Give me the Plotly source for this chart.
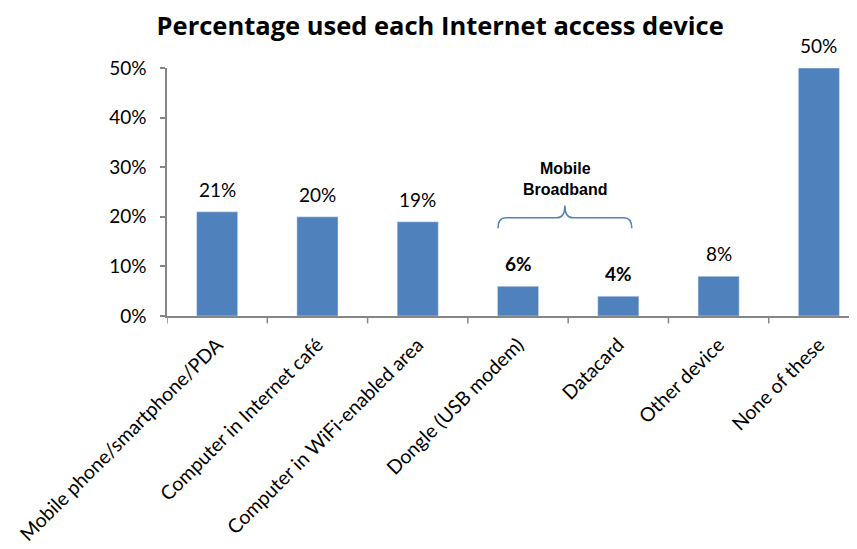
import plotly.graph_objects as go

categories = ["Mobile phone/smartphone/PDA", "Computer in Internet café",
              "Computer in WiFi-enabled area", "Dongle (USB modem)", "Datacard",
              "Other device", "None of these"]
values = [21, 20, 19, 6, 4, 8, 50]
label_bold = [False, False, False, True, True, False, False]
y_ticks = [0, 10, 20, 30, 40, 50]
y_tick_labels = ["0%", "10%", "20%", "30%", "40%", "50%"]
group_label = "Mobile<br>Broadband"
group_members = [3, 4]

BAR = "#4F81BD"
AXIS = "#868686"
FONT = "Lato"

fig = go.Figure()
fig.add_trace(go.Bar(x=list(range(len(categories))), y=values, marker_color=BAR,
                     width=0.41, hoverinfo="skip"))

for i, (v, b) in enumerate(zip(values, label_bold)):
    fig.add_annotation(x=i, y=v, text=f"<b>{v}%</b>" if b else f"{v}%", showarrow=False,
                       yanchor="bottom", yshift=9,
                       font=dict(family=FONT, size=19, color="#000000"))

# bracket over Mobile Broadband group
x0 = group_members[0] - 0.2
x1 = group_members[1] + 0.135
xm = (x0 + x1) / 2
yb, yh, yt = 17.7, 19.8, 22.3
path = (f"M {x0},{yb} Q {x0},{yh} {x0+0.08},{yh} L {xm-0.08},{yh} Q {xm},{yh} {xm},{yt} "
        f"Q {xm},{yh} {xm+0.08},{yh} L {x1-0.08},{yh} Q {x1},{yh} {x1},{yb}")
fig.add_shape(type="path", path=path, xref="x", yref="y",
              line=dict(color=BAR, width=1.5))
fig.add_annotation(x=xm, y=yt, text=f"<b>{group_label}</b>", showarrow=False,
                   yanchor="bottom", yshift=5,
                   font=dict(family="Liberation Sans", size=16, color="#000000"))

fig.update_layout(
    width=849, height=541,
    margin=dict(l=159, r=0, t=60, b=233),
    plot_bgcolor="white", paper_bgcolor="white",
    showlegend=False,
    title=dict(text="<b>Percentage used each Internet access device</b>",
               x=0.509, xanchor="center", y=0.966, yanchor="middle",
               font=dict(family="Open Sans", size=25.5, color="#000000")),
    xaxis=dict(tickmode="array", tickvals=list(range(len(categories))), ticktext=categories,
               range=[-0.5, 6.38], tickangle=-45, showline=True, linecolor=AXIS, linewidth=1.5,
               ticks="", showgrid=False, zeroline=False, automargin=False,
               ticklabelstandoff=8,
               tickfont=dict(family=FONT, size=19.5, color="#000000")),
    yaxis=dict(range=[0, 50], tickvals=y_ticks, ticktext=y_tick_labels,
               showline=True, linecolor=AXIS, linewidth=1.5, ticks="outside", ticklen=5,
               tickcolor=AXIS, tickwidth=1.5, showgrid=False, zeroline=False,
               automargin=False, ticklabelstandoff=10,
               tickfont=dict(family=FONT, size=19, color="#000000")),
)

# category boundary ticks on x axis
for k in range(len(categories) + 1):
    fig.add_shape(type="line", xref="x", yref="paper", x0=k - 0.5, x1=k - 0.5,
                  y0=0, y1=-0.03, line=dict(color=AXIS, width=1.5))

fig.write_html("out.html")
